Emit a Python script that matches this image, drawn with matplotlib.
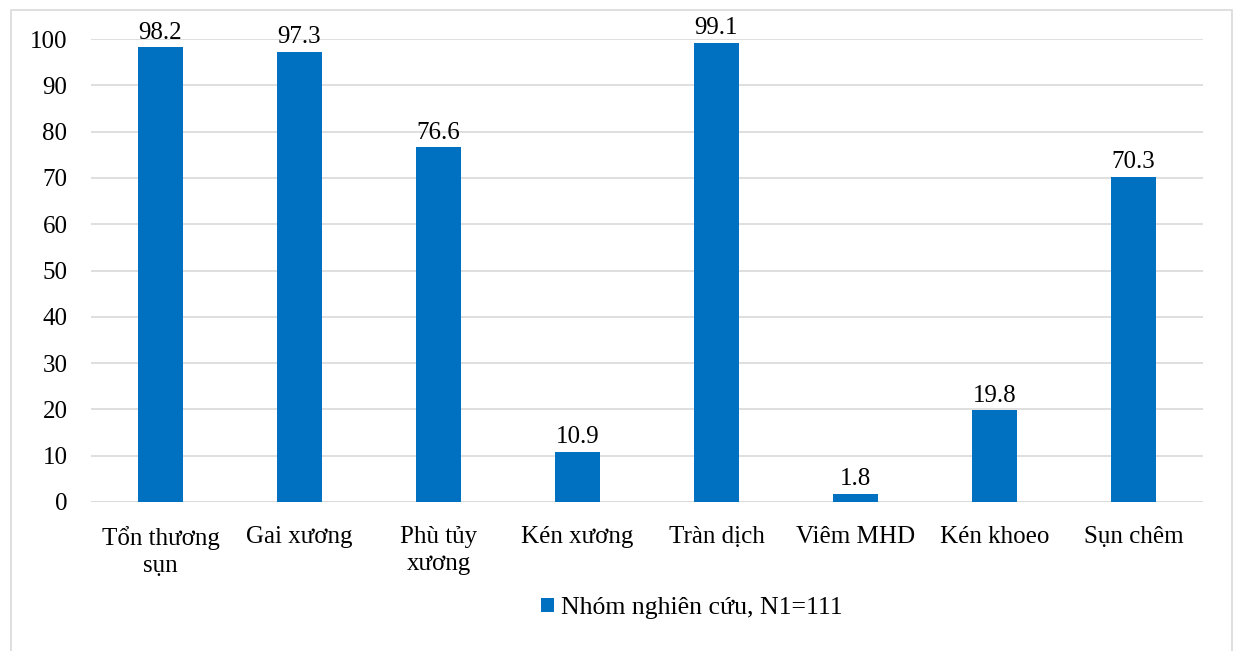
import numpy as np
import matplotlib.pyplot as plt
from matplotlib.patches import Rectangle

# categories and percentages
categories = ['Tổn thương\nsụn', 'Gai xương', 'Phù tủy\nxương', 'Kén xương',
              'Tràn dịch', 'Viêm MHD', 'Kén khoeo', 'Sụn chêm']
values = [98.2, 97.3, 76.6, 10.9, 99.1, 1.8, 19.8, 70.3]
yticks = [0, 10, 20, 30, 40, 50, 60, 70, 80, 90, 100]
series_name = 'Nhóm nghiên cứu, N1=111'

plt.rcParams['font.family'] = ['Liberation Serif', 'DejaVu Serif']
fs = 18

fig = plt.figure(figsize=(12.37, 6.51), dpi=100)
ax = fig.add_axes([91/1237, 1 - 502/651, (1203-91)/1237, (502-39)/651])

x = np.arange(len(categories))
bars = ax.bar(x, values, width=0.32, color='#0070C0', zorder=3, label=series_name)

# value labels on top of bars
for b, v in zip(bars, values):
    ax.text(b.get_x() + b.get_width()/2, v + 0.8, f'{v}', ha='center', va='bottom',
            fontsize=fs, zorder=4)

ax.set_xlim(-0.5, len(categories) - 0.5)
ax.set_ylim(0, 100)
ax.set_yticks(yticks)
ax.set_xticks(x)
ax.set_xticklabels(categories, linespacing=1.3)
ax.yaxis.grid(True, color='#D9D9D9', linewidth=1.2, zorder=0)
ax.tick_params(axis='both', length=0, labelsize=fs)
ax.tick_params(axis='x', pad=17)
ax.tick_params(axis='y', pad=17)
for s in ax.spines.values():
    s.set_visible(False)
ax.axhline(0, color='#D9D9D9', linewidth=1.2, zorder=1)

leg = fig.legend(handles=[bars], labels=[series_name], loc='center',
                 bbox_to_anchor=(692/1237, 1 - 608/651), frameon=False,
                 handlelength=0.5, handleheight=0.5, handletextpad=0.3, fontsize=fs + 0.5)

# outer chart border
fig.patches.append(Rectangle((11/1237, -0.05), (1232-11)/1237, 1 - 10/651 + 0.05,
                             transform=fig.transFigure, fill=False,
                             edgecolor='#D9D9D9', linewidth=1.2))

fig.savefig('out.png', dpi=100)
